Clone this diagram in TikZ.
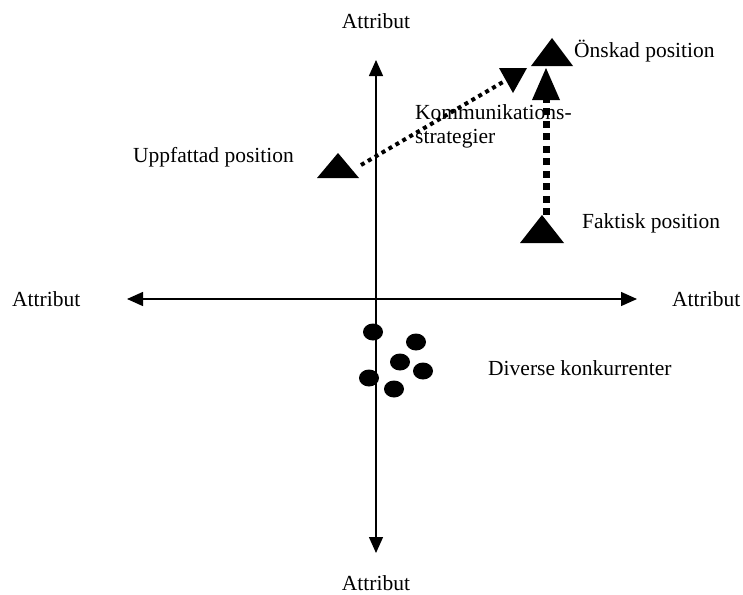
\documentclass[tikz,border=0pt]{standalone}
\usepackage{fontspec}
\setmainfont{Liberation Serif}
\usetikzlibrary{arrows.meta,shapes.geometric}
\begin{document}
\begin{tikzpicture}[x=1pt,y=-1pt,
  lbl/.style={inner sep=0pt,font=\fontsize{21.5}{24}\selectfont},
  axis/.style={line width=1.4pt,{Triangle[length=16pt,width=14pt]}-{Triangle[length=16pt,width=14pt]}},
  dotline/.style={line width=4pt,dash pattern=on 4pt off 4pt},
  dashline/.style={line width=7pt,dash pattern=on 7pt off 5.5pt},
  comp/.style={ellipse,fill=black,minimum width=20pt,minimum height=17pt,inner sep=0pt}]
\useasboundingbox (0,0) rectangle (743,594);

% axes
\coordinate (ytop) at (376,60);
\coordinate (ybot) at (376,553);
\coordinate (xl) at (127,299);
\coordinate (xr) at (637,299);
\draw[axis] (ybot) -- (ytop);
\draw[axis] (xl) -- (xr);

% axis labels
\node[lbl,anchor=base] (atop) at (376,29) {Attribut};
\node[lbl,anchor=base] (abot) at (376,590) {Attribut};
\node[lbl,anchor=base west] (aleft) at (12,306) {Attribut};
\node[lbl,anchor=base west] (aright) at (672,306) {Attribut};

% position markers (centre of base)
\coordinate (upp) at (338,178);
\coordinate (onsk) at (552,66);
\coordinate (fakt) at (542,243);
\fill (upp) ++(-21,0) -- ++(42,0) -- ++(-21,-25) -- cycle;
\fill (onsk) ++(-21,0) -- ++(42,0) -- ++(-21,-28) -- cycle;
\fill (fakt) ++(-22,0) -- ++(44,0) -- ++(-22,-28) -- cycle;

% vertical move: Faktisk -> Önskad
\coordinate (vstart) at (546,215);
\coordinate (vhead) at (546,100);
\draw[dashline] (vstart) -- (vhead);
\fill (vhead) ++(-14,0) -- ++(28,0) -- ++(-14,-32) -- cycle;

% communication strategy: Uppfattad -> target
\coordinate (dstart) at (361,165);
\coordinate (dend) at (503,82);
\draw[dotline] (dstart) -- (dend);
\fill (513,68) ++(-14,0) -- ++(28,0) -- ++(-14,25) -- cycle;

% labels
\node[lbl,anchor=base west] (luppf) at (133,162) {Uppfattad position};
\node[lbl,anchor=base west] (lonsk) at (574,57) {Önskad position};
\node[lbl,anchor=base west] (lfakt) at (582,228) {Faktisk position};
\node[lbl,anchor=base west] (lkomm) at (415,119) {Kommunikations-};
\node[lbl,anchor=base west] (lstrat) at (415,143) {strategier};
\node[lbl,anchor=base west] (ldiv) at (488,375) {Diverse konkurrenter};

% competitors
\node[comp] (c1) at (373,332) {};
\node[comp] (c2) at (416,342) {};
\node[comp] (c3) at (400,362) {};
\node[comp] (c4) at (423,371) {};
\node[comp] (c5) at (369,378) {};
\node[comp] (c6) at (394,389) {};
\end{tikzpicture}
\end{document}
